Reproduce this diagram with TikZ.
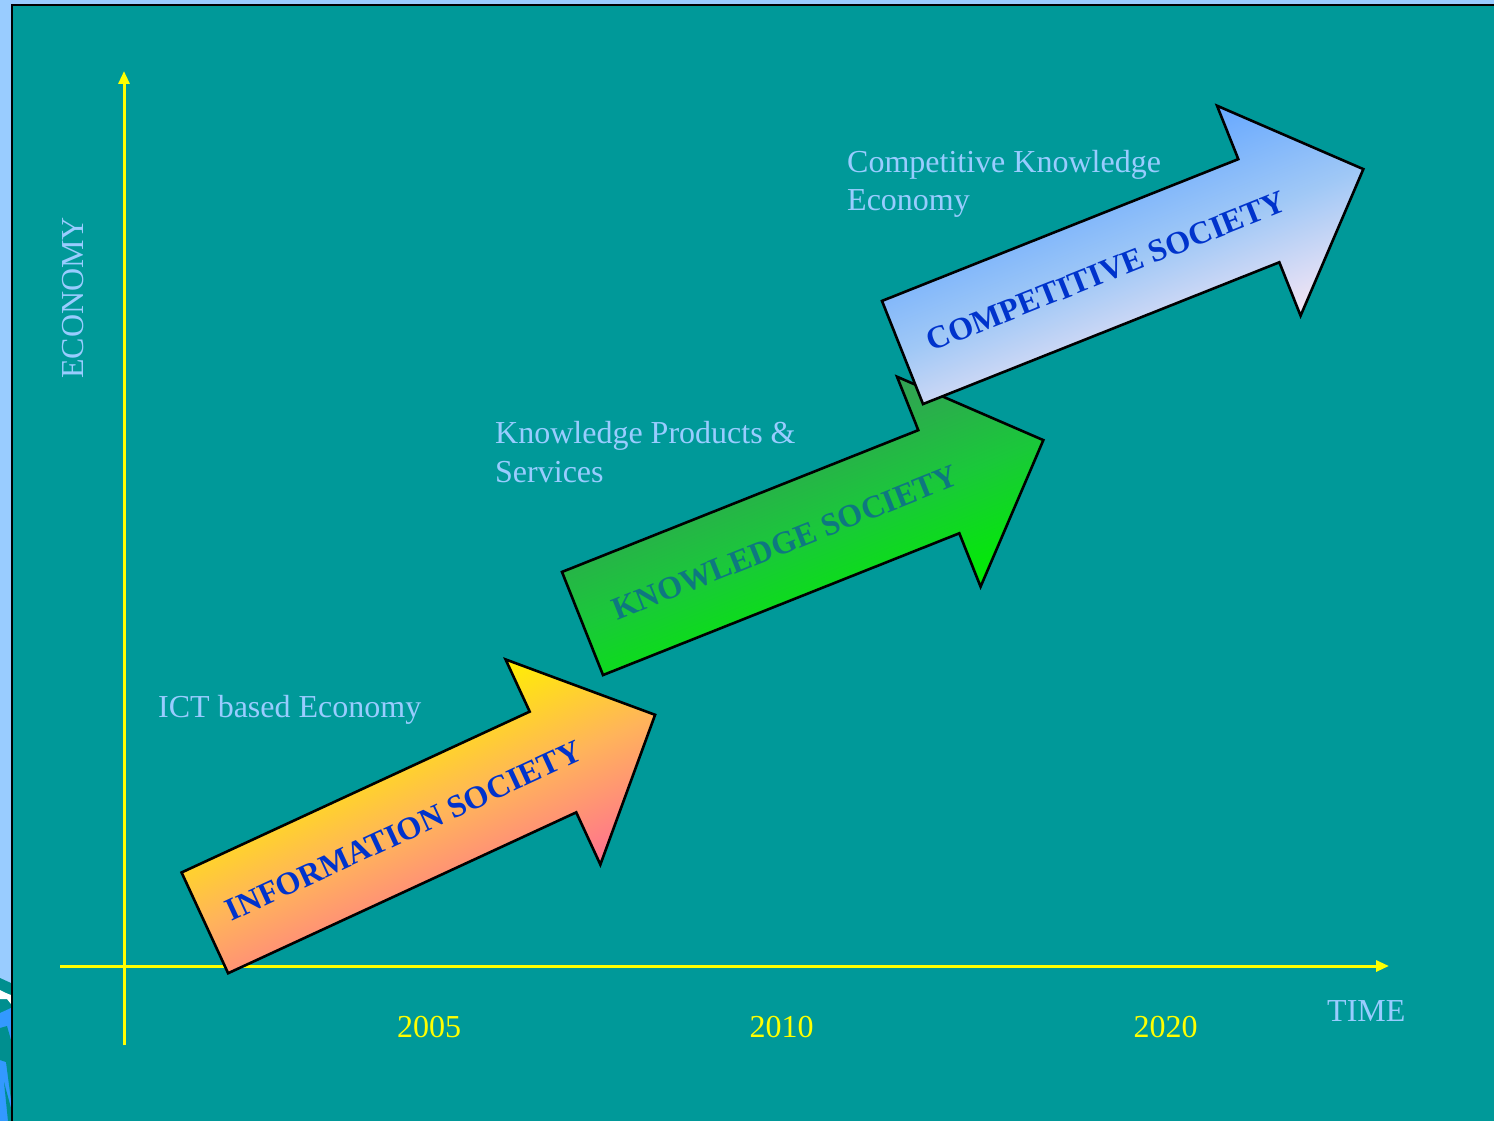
\documentclass[tikz,border=0pt]{standalone}
\usepackage{fontspec}
\setmainfont{Liberation Serif}
\usetikzlibrary{arrows.meta}
\definecolor{bgblue}{HTML}{99CCFF}
\definecolor{panelteal}{HTML}{009999}
\definecolor{decoteal}{HTML}{008F8F}
\definecolor{decoblue}{HTML}{3399FF}
\definecolor{lblblue}{HTML}{99CCFF}
\definecolor{axisyellow}{HTML}{FFFF00}
\definecolor{txtblue}{HTML}{0033CC}
\definecolor{txtteal}{HTML}{0E7880}
\definecolor{aTop}{HTML}{FFF000}
\definecolor{aMid}{HTML}{FFB45A}
\definecolor{aBot}{HTML}{FF7090}
\definecolor{bTop}{HTML}{33A055}
\definecolor{bMid}{HTML}{1AC83A}
\definecolor{bBot}{HTML}{00EE00}
\definecolor{cTop}{HTML}{66A8FF}
\definecolor{cMid}{HTML}{A0C8F6}
\definecolor{cBot}{HTML}{F6E6F4}
\tikzset{
  axisline/.style={draw=axisyellow, line width=3pt, -{Triangle[length=13pt,width=11pt]}},
  arrowshape/.style={draw=black, line width=2.6pt, line join=miter},
  arrowtext/.style={font=\fontsize{32}{38}\selectfont\bfseries, inner sep=0pt},
  econlabel/.style={font=\fontsize{32}{38}\selectfont, text=lblblue, inner sep=0pt, anchor=base west},
  yearlabel/.style={font=\fontsize{32}{38}\selectfont, text=axisyellow, inner sep=0pt, anchor=base},
}
\begin{document}
\begin{tikzpicture}[x=1pt,y=-1pt]
\useasboundingbox (0,0) rectangle (1494,1121);
\fill[bgblue] (0,0) rectangle (1494,1121);
% left decoration fragment
\fill[decoteal] (0,978) -- (11,983) -- (11,1121) -- (0,1121) -- cycle;
\fill[white] (0,990) -- (6,993) -- (11,995) -- (11,1004) -- (7,999) -- (0,999) -- cycle;
\fill[decoblue] (0,1013) -- (11,1008) -- (11,1121) -- (0,1121) -- cycle;
\fill[decoteal] (0,1028) -- (7,1026) -- (11,1040) -- (11,1100) -- (6,1062) -- (0,1060) -- cycle;
\fill[decoteal] (4,1082) -- (11,1108) -- (11,1121) -- (8,1121) -- cycle;
% panel
\fill[panelteal] (11.5,5) rectangle (1494,1121);
\draw[black, line width=2.5pt] (11.75,1121) -- (11.75,5.25) -- (1494,5.25);
% axes
\coordinate (yb) at (124,1045);
\coordinate (yt) at (124,71);
\coordinate (xl) at (60,966);
\coordinate (xr) at (1389,966);
\draw[axisline] (yb) -- (yt);
\draw[axisline] (xl) -- (xr);
% arrow 1
\begin{scope}[transform canvas={shift={(204.85,922.85)}, rotate=24.8}]
  \draw[arrowshape, top color=aTop, bottom color=aBot, middle color=aMid]
    (0,-55.5) -- (383.5,-55.5) -- (383.5,-113) -- (496,0) -- (383.5,113) -- (383.5,55.5) -- (0,55.5) -- cycle;
  \node[arrowtext, text=txtblue] (infotext) at (219,0) {INFORMATION SOCIETY};
\end{scope}
% arrow 2
\begin{scope}[transform canvas={shift={(582.5,623.5)}, rotate=21.7}]
  \draw[arrowshape, top color=bTop, bottom color=bBot, middle color=bMid]
    (0,-55.5) -- (383.5,-55.5) -- (383.5,-113) -- (496,0) -- (383.5,113) -- (383.5,55.5) -- (0,55.5) -- cycle;
  \node[arrowtext, text=txtteal] (knowtext) at (218,0) {KNOWLEDGE SOCIETY};
\end{scope}
% arrow 3
\begin{scope}[transform canvas={shift={(902.5,352.5)}, rotate=21.7}]
  \draw[arrowshape, top color=cTop, bottom color=cBot, middle color=cMid]
    (0,-55.5) -- (383.5,-55.5) -- (383.5,-113) -- (496,0) -- (383.5,113) -- (383.5,55.5) -- (0,55.5) -- cycle;
  \node[arrowtext, text=txtblue] (comptext) at (219,0) {COMPETITIVE SOCIETY};
\end{scope}
% labels
\node[econlabel] (ict) at (158,717) {ICT based Economy};
\node[econlabel] (kps1) at (495,443.5) {Knowledge Products \&};
\node[econlabel] (kps2) at (495,482.5) {Services};
\node[econlabel] (cke1) at (847,172) {Competitive Knowledge};
\node[econlabel] (cke2) at (847,210.5) {Economy};
\node[econlabel, rotate=90, anchor=base] (econ) at (83,298) {ECONOMY};
\node[econlabel] (time) at (1327,1021) {TIME};
\node[yearlabel] (y2005) at (429,1037) {2005};
\node[yearlabel] (y2010) at (781.5,1037) {2010};
\node[yearlabel] (y2020) at (1165.5,1037) {2020};
\end{tikzpicture}
\end{document}
